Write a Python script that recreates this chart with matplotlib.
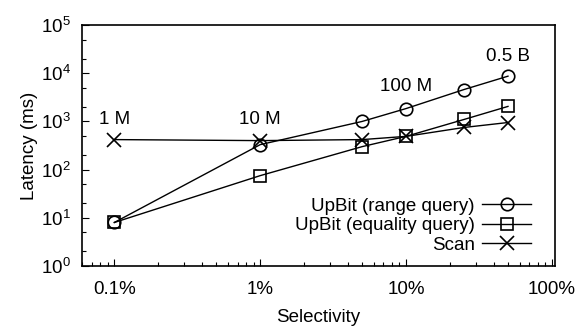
import matplotlib
matplotlib.use('Agg')
import matplotlib.pyplot as plt
from matplotlib.ticker import LogLocator, NullFormatter, FixedLocator, FixedFormatter
import numpy as np

plt.rcParams['font.family'] = ['Liberation Sans', 'DejaVu Sans']

# selectivity in percent
selectivity = [0.1, 1, 5, 10, 25, 50]
range_query = [8, 330, 1000, 1850, 4600, 8700]
equality_query = [8, 75, 300, 490, 1100, 2050]
scan = [420, 400, 420, 490, 750, 950]

size_labels = ['1 M', '10 M', '100 M', '0.5 B']
size_x = [0.1, 1, 10, 50]
size_y = [1100, 1100, 5400, 22000]

xticks = [0.1, 1, 10, 100]
xticklabels = ['0.1%', '1%', '10%', '100%']

fs = 13.5

fig = plt.figure(figsize=(5.79, 3.30), dpi=100)
ax = fig.add_axes([0.1416, 0.194, 0.8169, 0.730])

ax.plot(selectivity, range_query, '-o', color='black', lw=1.0, ms=9,
        mfc='none', mew=1.2, label='UpBit (range query)')
ax.plot(selectivity, equality_query, '-s', color='black', lw=1.0, ms=9,
        mfc='none', mew=1.2, label='UpBit (equality query)')
ax.plot(selectivity, scan, '-x', color='black', lw=1.0, ms=10,
        mew=1.2, label='Scan')

for lab, x, y in zip(size_labels, size_x, size_y):
    ax.text(x, y, lab, ha='center', va='center', fontsize=fs)

ax.set_xscale('log')
ax.set_yscale('log')
ax.set_xlim(0.06, 105)
ax.set_ylim(1, 1e5)

ax.xaxis.set_major_locator(FixedLocator(xticks))
ax.xaxis.set_major_formatter(FixedFormatter(xticklabels))
ax.xaxis.set_minor_locator(LogLocator(base=10, subs=np.arange(2, 10)))
ax.xaxis.set_minor_formatter(NullFormatter())
ax.yaxis.set_major_locator(LogLocator(base=10, numticks=10))
ax.yaxis.set_minor_locator(LogLocator(base=10, subs=(2, 5)))
ax.yaxis.set_minor_formatter(NullFormatter())

ax.tick_params(which='both', direction='in', top=False, right=False,
               labelsize=fs, width=0.8)
ax.tick_params(which='major', length=5)
ax.tick_params(axis='x', which='major', pad=11)
ax.tick_params(axis='y', which='major', pad=8)
ax.tick_params(which='minor', length=3)
for s in ax.spines.values():
    s.set_linewidth(1.2)

ax.set_xlabel('Selectivity', fontsize=fs, labelpad=8)
ax.set_ylabel('Latency (ms)', fontsize=fs, labelpad=2)

ax.legend(loc='lower right', bbox_to_anchor=(0.975, 0.0), frameon=False,
          markerfirst=False, fontsize=fs, handlelength=2.6,
          labelspacing=0.12, handletextpad=0.4, borderaxespad=0.25)

fig.savefig('out.png', dpi=100)
